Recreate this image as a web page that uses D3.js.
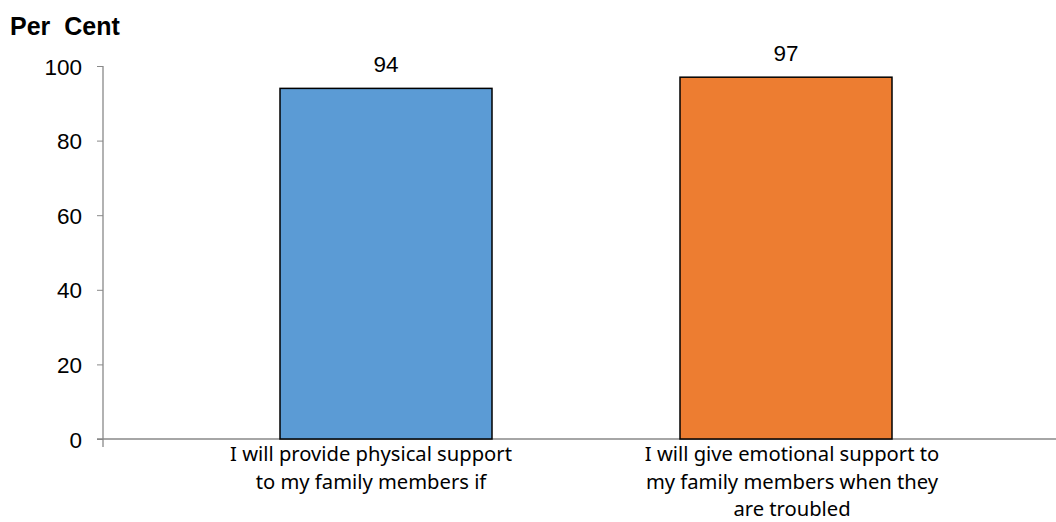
<!DOCTYPE html>
<html><head><meta charset="utf-8">
<script src="https://cdn.jsdelivr.net/npm/d3@7"></script>
<style>body{margin:0;background:#fff}</style>
</head><body>
<svg id="c" width="1056" height="522"></svg>
<script>
const categories = [
  ["I will provide physical support", "to my family members if"],
  ["I will give emotional support to", "my family members when they", "are troubled"]
];
const values = [94, 97];
const colors = ["#5B9BD5", "#ED7D31"];
const yTicks = [0, 20, 40, 60, 80, 100];

const svg = d3.select("#c");
const axisX = 103, y0 = 439, yTop = 66;
const y = d3.scaleLinear().domain([0, 100]).range([y0, yTop]);
const x = d3.scaleBand().domain(d3.range(categories.length)).range([186, 986]).paddingInner(0.47).paddingOuter(0.235);
const gray = "#898989";
const arial = "Liberation Sans, Arial, sans-serif";
const labelShift = [-15, 6];

// y axis
const ya = svg.append("g").attr("transform", `translate(${axisX},0)`)
  .call(d3.axisLeft(y).tickValues(yTicks).tickSize(6).tickPadding(15));
ya.select(".domain").remove();
ya.selectAll(".tick line").attr("stroke", gray);
ya.selectAll("text").attr("font-family", arial).attr("font-size", 22.5).attr("fill", "#000").attr("dy", "0.36em");
svg.append("line").attr("x1", axisX).attr("x2", axisX).attr("y1", yTop).attr("y2", y0 + 8).attr("stroke", gray).attr("stroke-width", 1.3);
svg.append("line").attr("x1", axisX - 6).attr("x2", 1056).attr("y1", y0).attr("y2", y0).attr("stroke", gray).attr("stroke-width", 1.3);

// bars
svg.selectAll("rect.bar").data(values).enter().append("rect")
  .attr("x", (d, i) => x(i)).attr("width", x.bandwidth())
  .attr("y", d => y(d)).attr("height", d => y0 - y(d))
  .attr("fill", (d, i) => colors[i]).attr("stroke", "#000").attr("stroke-width", 1.5);

// value labels
svg.selectAll("text.val").data(values).enter().append("text")
  .attr("x", (d, i) => x(i) + x.bandwidth() / 2).attr("y", d => y(d) - 16)
  .attr("text-anchor", "middle").attr("font-family", arial)
  .attr("font-size", 22.5).text(d => d);

// category labels
categories.forEach((lines, i) => {
  const t = svg.append("text").attr("text-anchor", "middle")
    .attr("font-family", "Noto Sans, sans-serif").attr("font-size", 20.2).attr("fill", "#000");
  lines.forEach((l, j) => {
    t.append("tspan").attr("x", x(i) + x.bandwidth() / 2 + labelShift[i]).attr("y", 461 + j * 27.5).text(l);
  });
});

// title
svg.append("text").attr("x", 10).attr("y", 35).attr("font-family", arial)
  .attr("font-weight", "bold").attr("font-size", 25).attr("xml:space", "preserve").text("Per  Cent");
</script>
</body></html>
